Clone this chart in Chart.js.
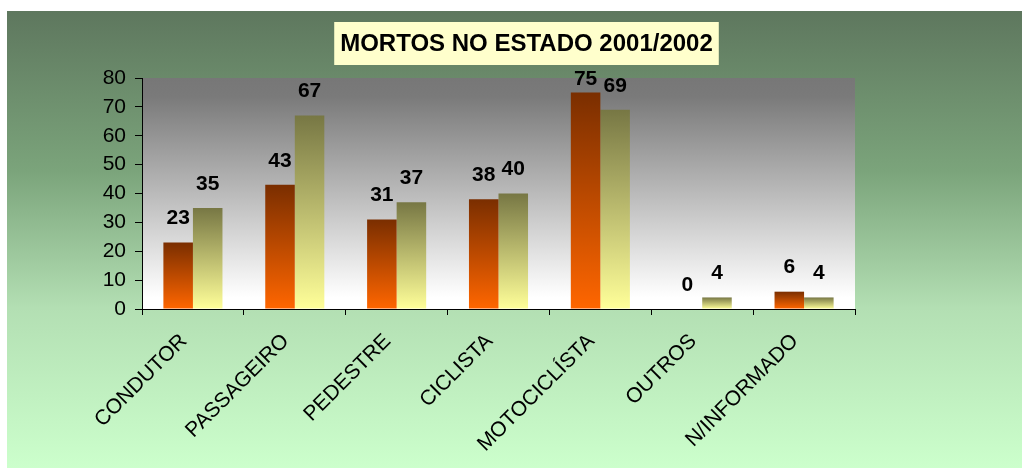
<!DOCTYPE html>
<html>
<head>
<meta charset="utf-8">
<script src="https://cdn.jsdelivr.net/npm/chart.js@4.4.0/dist/chart.umd.min.js"></script>
<style>
  html, body { margin: 0; padding: 0; background: #ffffff; }
  #wrap {
    position: absolute; left: 7px; top: 11px; width: 1015px; height: 457px;
    background: linear-gradient(to bottom, #5e775e 0%, #7ba47b 35%, #b3dfb3 65%, #ccffcc 100%);
  }
</style>
</head>
<body>
<div id="wrap"><canvas id="chart"></canvas></div>
<script>
// dados do grafico
const categories = ['CONDUTOR', 'PASSAGEIRO', 'PEDESTRE', 'CICLISTA', 'MOTOCICLÍSTA', 'OUTROS', 'N/INFORMADO'];
const mortos2001 = [23, 43, 31, 38, 75, 0, 6];
const mortos2002 = [35, 67, 37, 40, 69, 4, 4];
const yTicks = [0, 10, 20, 30, 40, 50, 60, 70, 80];
const titleText = 'MORTOS NO ESTADO 2001/2002';

const FONT = "Arial, 'Liberation Sans', sans-serif";

// gradient per bar, from top of the bar down to the base
function barGradient(topColor, bottomColor) {
    return function(ctx) {
        const chart = ctx.chart;
        if (!chart.chartArea || ctx.raw === undefined) return bottomColor;
        const y = chart.scales.y;
        const top = y.getPixelForValue(ctx.raw);
        const base = y.getPixelForValue(0);
        if (base - top < 1) return bottomColor;
        const g = chart.ctx.createLinearGradient(0, top, 0, base);
        g.addColorStop(0, topColor);
        g.addColorStop(1, bottomColor);
        return g;
    };
}

// titulo com caixa amarela, centrado na largura toda
const titleBox = {
    id: 'titleBox',
    afterDraw(chart) {
        const ctx = chart.ctx;
        ctx.save();
        ctx.font = 'bold 24px ' + FONT;
        const w = ctx.measureText(titleText).width;
        const cx = 519.5;
        const cy = 32.5;
        ctx.fillStyle = '#ffffcc';
        ctx.fillRect(cx - w / 2 - 6, cy - 21.5, w + 12, 43);
        ctx.fillStyle = '#000000';
        ctx.textAlign = 'center';
        ctx.textBaseline = 'middle';
        ctx.fillText(titleText, cx, cy + 1);
        ctx.restore();
    }
};

const plotBackground = {
    id: 'plotBackground',
    beforeDraw(chart) {
        const a = chart.chartArea;
        const ctx = chart.ctx;
        ctx.save();
        const g = ctx.createLinearGradient(0, a.top, 0, a.bottom);
        g.addColorStop(0, '#777777');
        g.addColorStop(0.08, '#7a7a7a');
        g.addColorStop(0.95, '#ffffff');
        g.addColorStop(1, '#ffffff');
        ctx.fillStyle = g;
        ctx.fillRect(a.left, a.top, a.right - a.left, a.bottom - a.top);
        ctx.restore();
    }
};

const valueLabels = {
    id: 'valueLabels',
    afterDatasetsDraw(chart) {
        const ctx = chart.ctx;
        const a = chart.chartArea;
        ctx.save();
        ctx.font = 'bold 21px ' + FONT;
        ctx.fillStyle = '#000000';
        ctx.textAlign = 'center';
        ctx.textBaseline = 'middle';
        chart.data.datasets.forEach((ds, i) => {
            const meta = chart.getDatasetMeta(i);
            meta.data.forEach((bar, j) => {
                const y = Math.max(bar.y - 24, a.top + 1);
                ctx.fillText(String(ds.data[j]), bar.x, y);
            });
        });
        ctx.restore();
    }
};

new Chart(document.getElementById('chart'), {
    type: 'bar',
    data: {
        labels: categories,
        datasets: [
            {
                label: '2001',
                data: mortos2001,
                backgroundColor: barGradient('#7a2e00', '#ff6600'),
                borderWidth: 0
            },
            {
                label: '2002',
                data: mortos2002,
                backgroundColor: barGradient('#777744', '#ffff99'),
                borderWidth: 0
            }
        ]
    },
    plugins: [plotBackground, valueLabels, titleBox],
    options: {
        responsive: true,
        maintainAspectRatio: false,
        animation: false,
        categoryPercentage: 0.58,
        barPercentage: 1.0,
        layout: { padding: { left: 0, right: 167, top: 67, bottom: 0 } },
        plugins: {
            legend: { display: false },
            tooltip: { enabled: false },
            title: { display: false }
        },
        scales: {
            x: {
                afterFit(scale) { scale.height = 159; },
                border: { color: '#000000', width: 1 },
                grid: {
                    offset: true,
                    drawOnChartArea: false,
                    drawTicks: true,
                    tickLength: 6,
                    color: '#000000'
                },
                ticks: {
                    color: '#000000',
                    font: { family: FONT, size: 21 },
                    minRotation: 45,
                    maxRotation: 45,
                    autoSkip: false,
                    padding: 14,
                    labelOffset: -9
                }
            },
            y: {
                min: 0,
                max: 80,
                afterFit(scale) { scale.width = 135; },
                afterBuildTicks(scale) { scale.ticks = yTicks.map(v => ({ value: v })); },
                border: { color: '#000000', width: 1 },
                grid: {
                    drawOnChartArea: false,
                    drawTicks: true,
                    tickLength: 7,
                    color: '#000000'
                },
                ticks: {
                    color: '#000000',
                    font: { family: FONT, size: 21 },
                    padding: 9
                }
            }
        }
    }
});
</script>
</body>
</html>
